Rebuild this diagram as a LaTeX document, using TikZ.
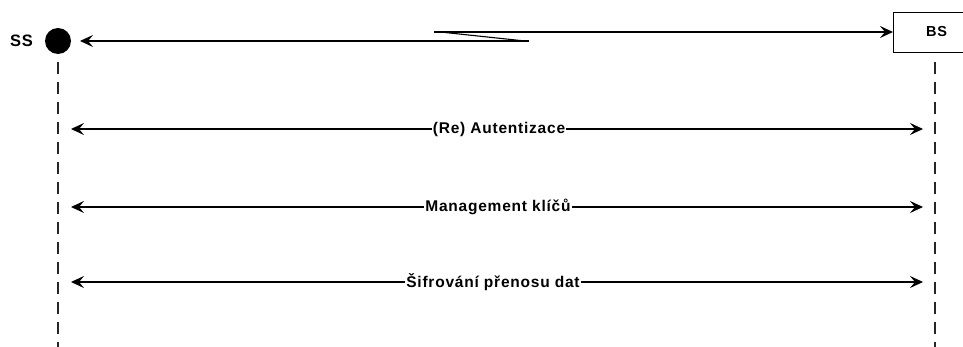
\documentclass[tikz,border=0pt]{standalone}
\usepackage{fontspec}
\setmainfont{Liberation Sans}
\newfontfamily\lblfont[LetterSpace=5]{Liberation Sans}
\usetikzlibrary{arrows.meta}
\begin{document}
\begin{tikzpicture}[x=1pt,y=-1pt,
  lbl/.style={font=\lblfont\bfseries\fontsize{15.5}{18}\selectfont, fill=white, inner sep=1pt},
  msg/.style={line width=1.1pt, {Stealth[length=13pt,width=12pt,inset=5pt]}-{Stealth[length=13pt,width=12pt,inset=5pt]}},
  onearrow/.style={line width=1.1pt, -{Stealth[length=13pt,width=12pt,inset=5pt]}},
  lifeline/.style={line width=1.2pt, dash pattern=on 12pt off 8pt, draw=black!85}]
\useasboundingbox (0,0) rectangle (963,347);
% participants
\node[font=\lblfont\bfseries\fontsize{16.5}{19}\selectfont] (sslabel) at (21.5,41) {SS};
\node[circle, fill=black, minimum size=26pt, inner sep=0pt] (ss) at (58,41) {};
\node[draw, line width=1.1pt, minimum width=80pt, minimum height=40pt, inner sep=0pt,
      anchor=north west] (bs) at (893,12) {};
\node[font=\lblfont\bfseries\fontsize{14.5}{17}\selectfont] (bslabel) at (936.5,32) {BS};
% lifelines
\coordinate (sstop) at (58,62);
\coordinate (ssbot) at (58,347);
\coordinate (bstop) at (935,62);
\coordinate (bsbot) at (935,347);
\draw[lifeline] (sstop) -- (ssbot);
\draw[lifeline] (bstop) -- (bsbot);
% top exchange with the kinked link
\coordinate (upA) at (434,32);
\coordinate (upB) at (445,32.5);
\coordinate (loA) at (525,41);
\coordinate (loB) at (529,41);
\coordinate (sstip) at (80,41);
\draw[onearrow] (upA) -- (bs.west |- upA);
\draw[onearrow] (loB) -- (sstip);
\draw[line width=1.1pt] (upB) -- (loA);
% security phases
\foreach \y/\name/\txt/\cx in {129/auth/{(Re) Autentizace}/499,
                                207/keys/{Management klíčů}/498,
                                282/enc/{Šifrování přenosu dat}/493} {
  \coordinate (\name L) at (71,\y);
  \coordinate (\name R) at (923,\y);
  \draw[msg] (\name L) -- (\name R);
  \node[lbl] (\name) at (\cx,\y) {\txt};
}
\end{tikzpicture}
\end{document}
